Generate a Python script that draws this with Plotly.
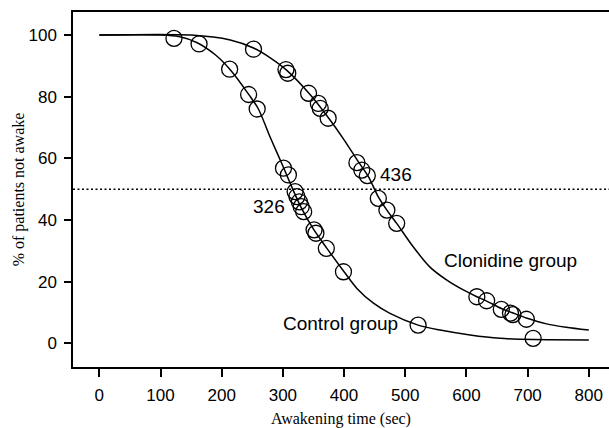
import plotly.graph_objects as go

# Fitted curves
control_curve_x = [0, 100, 130, 160, 190, 215, 245, 260, 280, 300, 315, 330, 350, 372, 400, 421, 448, 475, 521, 557, 606, 655, 710, 800]
control_curve_y = [100, 100, 99.5, 97.5, 93.5, 88.5, 80.5, 76, 66.5, 57.5, 50.5, 44, 37, 30.8, 23.2, 17.8, 13.0, 9.7, 5.9, 4.3, 2.7, 1.6, 1.2, 1.1]

clonidine_curve_x = [0, 150, 214, 252, 280, 306, 343, 375, 400, 423, 440, 456, 470, 486, 513, 540, 568, 595, 617, 633, 657, 674, 698, 731, 763, 800]
clonidine_curve_y = [100, 100, 98.4, 95.8, 92.5, 88.6, 81, 73, 66, 59, 54, 47.5, 43.2, 38.9, 31.3, 24.8, 20.5, 17.3, 15.1, 13.7, 11.3, 10, 8.2, 6.3, 5.2, 4.3]

# Observed patients
control_x = [122, 163, 213, 244, 258, 301, 309, 320, 323, 327, 330, 334, 351, 354, 371, 399, 521, 709]
control_y = [98.9, 97.1, 88.9, 80.7, 76.0, 56.8, 54.6, 49.2, 47.6, 45.9, 44.3, 42.7, 36.8, 35.7, 30.8, 23.2, 5.9, 1.6]

clonidine_x = [252, 305, 308, 342, 358, 361, 374, 421, 429, 438, 456, 470, 486, 617, 633, 657, 672, 676, 698]
clonidine_y = [95.4, 88.8, 87.6, 81.1, 77.8, 76.2, 73.0, 58.6, 56.2, 54.4, 47.0, 43.2, 38.9, 15.1, 13.8, 11.0, 9.8, 9.3, 7.8]

x_ticks = [0, 100, 200, 300, 400, 500, 600, 700, 800]
y_ticks = [0, 20, 40, 60, 80, 100]
median_level = 50
median_control = "326"
median_clonidine = "436"

fig = go.Figure()

line_style = dict(color="black", width=1.5)
marker_style = dict(symbol="circle-open", size=16, color="black", line=dict(width=1.3, color="black"))

fig.add_trace(go.Scatter(x=control_curve_x, y=control_curve_y, mode="lines",
                         line=dict(shape="spline", smoothing=0.8, **line_style),
                         name="Control group", showlegend=False, hoverinfo="skip"))
fig.add_trace(go.Scatter(x=clonidine_curve_x, y=clonidine_curve_y, mode="lines",
                         line=dict(shape="spline", smoothing=0.8, **line_style),
                         name="Clonidine group", showlegend=False, hoverinfo="skip"))
fig.add_trace(go.Scatter(x=control_x, y=control_y, mode="markers", marker=marker_style,
                         name="Control group", showlegend=False))
fig.add_trace(go.Scatter(x=clonidine_x, y=clonidine_y, mode="markers", marker=marker_style,
                         name="Clonidine group", showlegend=False))

fig.add_shape(type="line", xref="paper", x0=0, x1=1, yref="y", y0=median_level, y1=median_level,
              line=dict(color="black", width=1.5, dash="2px,2.5px"))

ann_font = dict(family="Liberation Sans, Arial, sans-serif", size=19, color="black")
fig.add_annotation(x=456, y=54.6, text=median_clonidine, showarrow=False, xanchor="left", yanchor="middle", font=ann_font)
fig.add_annotation(x=306.4, y=44.5, text=median_control, showarrow=False, xanchor="right", yanchor="middle", font=ann_font)
fig.add_annotation(x=560, y=27.0, text="Clonidine group", showarrow=False, xanchor="left", yanchor="middle", font=ann_font)
fig.add_annotation(x=296.7, y=6.3, text="Control group", showarrow=False, xanchor="left", yanchor="middle", font=ann_font)

tick_font = dict(family="Liberation Sans, Arial, sans-serif", size=17, color="black")
title_font = dict(family="Liberation Serif, Times New Roman, serif", size=16, color="black")

fig.update_xaxes(range=[-43, 833], tickvals=x_ticks, ticks="outside", ticklen=8, tickwidth=1.5,
                 tickcolor="black", showline=True, linecolor="black", linewidth=1.5, mirror=True,
                 showgrid=False, zeroline=False, tickfont=tick_font, ticklabelstandoff=4,
                 title=dict(text="Awakening time (sec)", font=title_font, standoff=10))
fig.update_yaxes(range=[-7.69, 107.46], tickvals=y_ticks, ticks="outside", ticklen=7, tickwidth=1.5,
                 tickcolor="black", showline=True, linecolor="black", linewidth=1.5, mirror=False,
                 showgrid=False, zeroline=False, tickfont=tick_font, ticklabelstandoff=4,
                 title=dict(text="% of patients not awake", font=title_font, standoff=0))

fig.update_layout(width=609, height=428, margin=dict(l=73, r=0, t=12, b=61),
                  plot_bgcolor="white", paper_bgcolor="white", showlegend=False)

fig.write_html("out.html", config={"displayModeBar": False},
               post_script="document.body.style.margin='0';document.body.style.padding='0';")
